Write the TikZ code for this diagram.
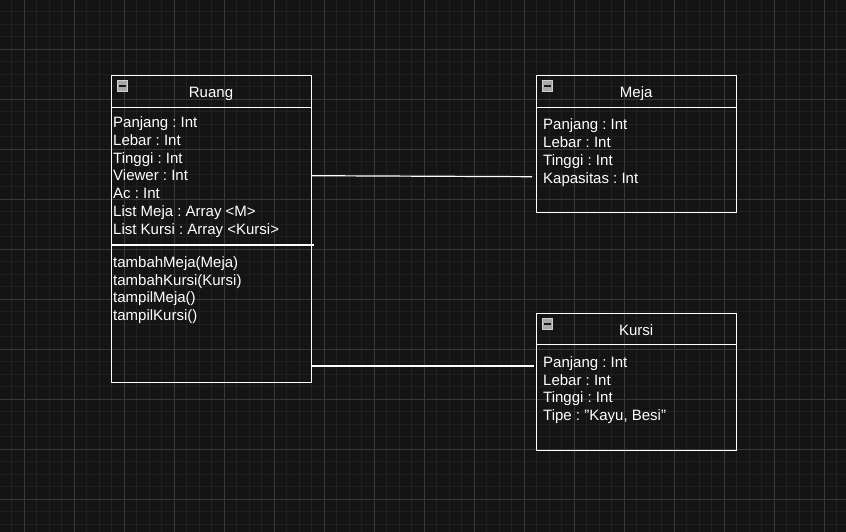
\documentclass[tikz,border=0pt]{standalone}
\usepackage{fontspec}
\setmainfont{Liberation Sans}
\usepackage{tikz}
\usetikzlibrary{positioning}
\usepackage{xcolor}
\definecolor{canvas}{HTML}{141414}
\definecolor{gridminor}{HTML}{202020}
\definecolor{gridmajor}{HTML}{383838}
\definecolor{iconfill}{HTML}{A8A8A8}
\definecolor{iconedge}{HTML}{D0D0D0}
\definecolor{icondark}{HTML}{1A1A1A}
\newcommand{\umlfont}{\fontsize{15}{17.8}\selectfont}
\frenchspacing

\tikzset{
  classbox/.style={draw=white, line width=1.2pt, minimum width=200pt, inner sep=0pt, anchor=north west},
  classtitle/.style={font=\umlfont, text=white, inner sep=0pt, anchor=base},
  members/.style={font=\umlfont, text=white, align=left, inner sep=0pt, anchor=base west},
  foldicon/.style={fill=iconfill, draw=iconedge, line width=0.8pt, minimum width=10.5pt, minimum height=10.5pt, inner sep=0pt},
  foldbar/.style={draw=icondark, line width=1.6pt},
  divider/.style={draw=white, line width=1.2pt},
  assoc/.style={draw=white, line width=1.2pt},
}

\begin{document}
\begin{tikzpicture}[x=1pt, y=-1pt]
% canvas and drawing grid
\fill[canvas] (0,0) rectangle (846,532);
\useasboundingbox (0,0) rectangle (846,532);
\foreach \gx in {0,...,66} {\draw[gridminor, line width=1pt] (11.8+12.5*\gx,0) -- (11.8+12.5*\gx,532);}
\foreach \gy in {0,...,41} {\draw[gridminor, line width=1pt] (0,11.8+12.5*\gy) -- (846,11.8+12.5*\gy);}
\foreach \gx in {0,...,16} {\draw[gridmajor, line width=1pt] (24.3+50*\gx,0) -- (24.3+50*\gx,532);}
\foreach \gy in {0,...,9} {\draw[gridmajor, line width=1pt] (0,49.3+50*\gy) -- (846,49.3+50*\gy);}

% 1. class Ruang (members anchored at the baseline of their last line)
\node[classbox, minimum height=307pt] (ruang) at (110.8,75.2) {};
\node[foldicon] (ruangicon) at (122.5,86) {};
\draw[foldbar] ([xshift=2.5pt]ruangicon.west) -- ([xshift=-2.5pt]ruangicon.east);
\node[classtitle] (ruangtitle) at (211,97.3) {Ruang};
\draw[divider] ([yshift=-32pt]ruang.north west) -- ([yshift=-32pt]ruang.north east);
\node[members] (ruangattr) at (113,234.3) {Panjang : Int\\Lebar : Int\\Tinggi : Int\\Viewer : Int\\Ac : Int\\List Meja : Array <M>\\List Kursi : Array <Kursi>};
\draw[divider] ([yshift=-169.8pt]ruang.north west) -- ([yshift=-169.8pt,xshift=2pt]ruang.north east);
\node[members] (ruangops) at (113,320.7) {tambahMeja(Meja)\\tambahKursi(Kursi)\\tampilMeja()\\tampilKursi()};

% 2. class Meja
\node[classbox, minimum height=137pt] (meja) at (536.2,75.2) {};
\node[foldicon] (mejaicon) at (547.5,86) {};
\draw[foldbar] ([xshift=2.5pt]mejaicon.west) -- ([xshift=-2.5pt]mejaicon.east);
\node[classtitle] (mejatitle) at (636.2,97.3) {Meja};
\draw[divider] ([yshift=-32pt]meja.north west) -- ([yshift=-32pt]meja.north east);
\node[members] (mejaattr) at (543,183.4) {Panjang : Int\\Lebar : Int\\Tinggi : Int\\Kapasitas : Int};

% 3. class Kursi
\node[classbox, minimum height=137pt] (kursi) at (536.2,312.5) {};
\node[foldicon] (kursiicon) at (547.5,324) {};
\draw[foldbar] ([xshift=2.5pt]kursiicon.west) -- ([xshift=-2.5pt]kursiicon.east);
\node[classtitle] (kursititle) at (636.2,335) {Kursi};
\draw[divider] ([yshift=-32pt]kursi.north west) -- ([yshift=-32pt]kursi.north east);
\node[members] (kursiattr) at (543,420.7) {Panjang : Int\\Lebar : Int\\Tinggi : Int\\Tipe : \symbol{34}Kayu, Besi\symbol{34}};

% associations, ending just short of the target boxes
\coordinate (mejaend) at ([xshift=-4pt]meja.west |- 0,176.7);
\coordinate (kursiend) at ([xshift=-2pt]kursi.west |- 0,366);
\draw[assoc] (ruang.east |- 0,175.7) -- (mejaend);
\draw[assoc] (ruang.east |- 0,366) -- (kursiend);
\end{tikzpicture}
\end{document}
